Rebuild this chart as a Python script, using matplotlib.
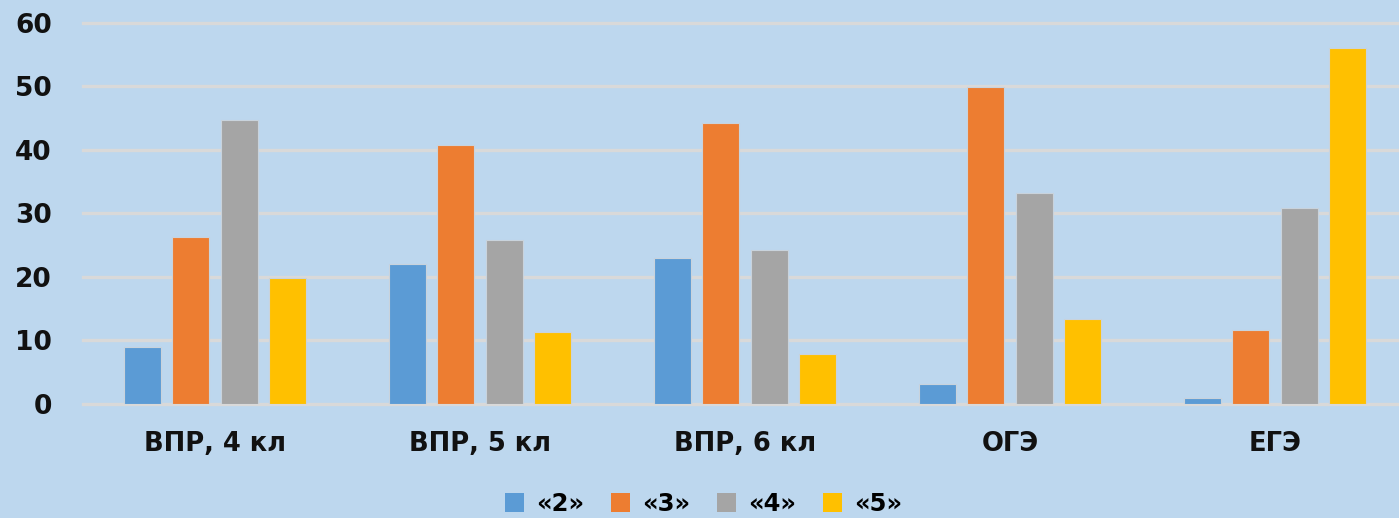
import matplotlib
matplotlib.use("Agg")
import matplotlib.pyplot as plt
import numpy as np
from matplotlib.patches import Patch

categories = ["ВПР, 4 кл", "ВПР, 5 кл", "ВПР, 6 кл", "ОГЭ", "ЕГЭ"]
series_names = ["«2»", "«3»", "«4»", "«5»"]
grade2 = [8.9, 22.0, 23.0, 3.1, 0.9]
grade3 = [26.3, 40.8, 44.3, 49.9, 11.6]
grade4 = [44.7, 25.8, 24.3, 33.2, 30.8]
grade5 = [19.8, 11.3, 7.9, 13.4, 56.1]
colors = ["#5B9BD5", "#ED7D31", "#A5A5A5", "#FFC000"]
bg = "#BDD7EE"

fig = plt.figure(figsize=(13.99, 5.18), dpi=100, facecolor=bg)
ax = fig.add_axes([82.5 / 1399, (518 - 403.7) / 518, 1325 / 1399, 380.7 / 518])
ax.set_facecolor(bg)

x = np.arange(len(categories))
width = 0.14
step = 0.183
data = [grade2, grade3, grade4, grade5]
for i, (vals, c) in enumerate(zip(data, colors)):
    ax.bar(x + (i - 1.5) * step, vals, width, color=c, edgecolor="#C9D3DC",
           linewidth=0.8, zorder=3)

ax.set_xlim(-0.5, 4.5)
ax.set_ylim(0, 60)
ax.set_yticks(range(0, 61, 10))
ax.yaxis.grid(True, color="#D9D9D9", linewidth=2.4, zorder=0)
for gl in ax.get_ygridlines():
    gl.set_clip_on(False)
ax.set_axisbelow(True)
for s in ax.spines.values():
    s.set_visible(False)
ax.tick_params(axis="both", length=0)
ax.tick_params(axis="y", pad=22)
ax.tick_params(axis="x", pad=20)
ax.set_xticks(x)
ax.set_xticklabels(categories, fontsize=18.5, fontweight="bold", color="#111111")
for lab in ax.get_yticklabels():
    lab.set_fontsize(19)
    lab.set_fontweight("bold")
    lab.set_color("#111111")

handles = [Patch(facecolor=c, edgecolor="none") for c in colors]
fig.legend(handles, series_names, loc="center", bbox_to_anchor=(704 / 1399, 1 - 504 / 518),
           ncol=4, frameon=False, prop={"size": 17.5, "weight": "bold"},
           handlelength=0.78, handleheight=0.78, handletextpad=0.5, columnspacing=1.1,
           borderpad=0.1)

fig.savefig("out.png", dpi=100, facecolor=bg)
